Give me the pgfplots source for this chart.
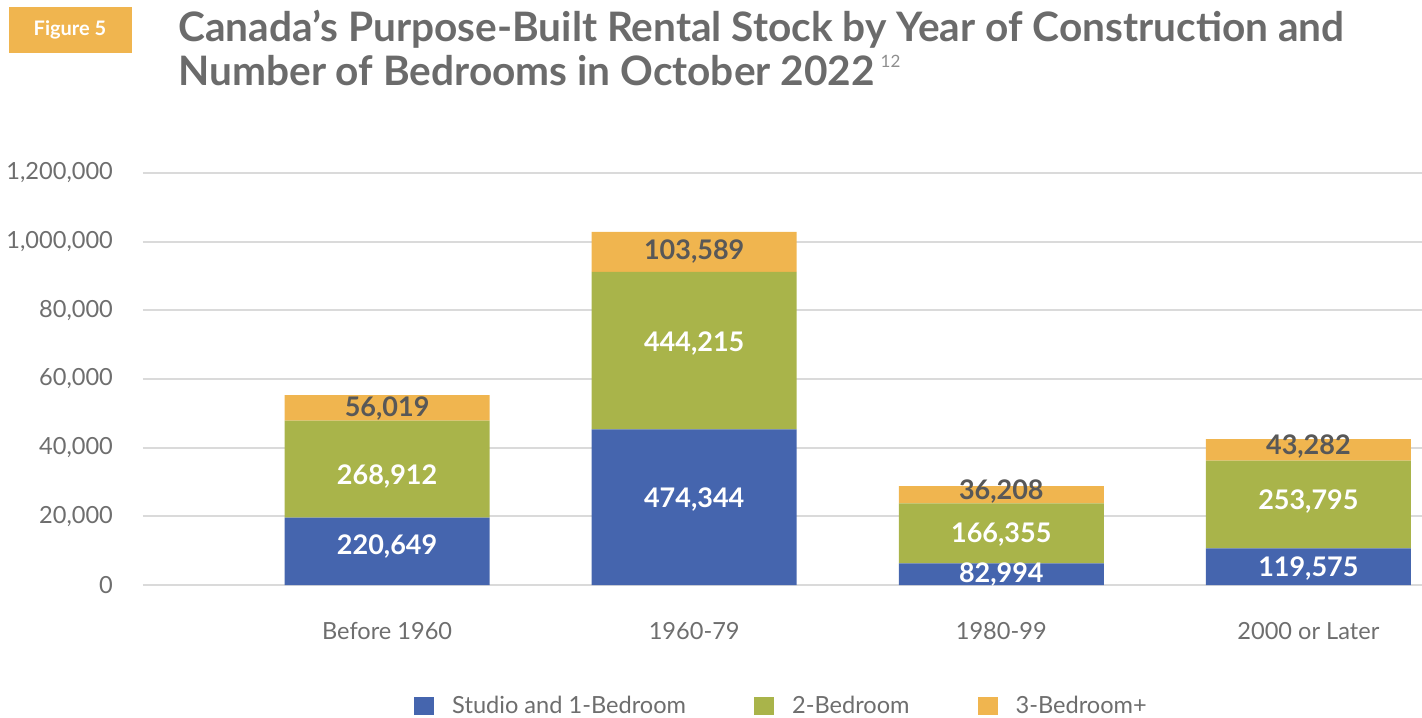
\documentclass[border=0pt]{standalone}
\usepackage{pgfplots}
\pgfplotsset{compat=1.18}
\usepackage{fontspec}
\setmainfont{Lato}
\definecolor{cblue}{HTML}{4565AE}
\definecolor{cgreen}{HTML}{A9B44A}
\definecolor{corange}{HTML}{F0B54F}
\definecolor{ctitle}{HTML}{6B6B6B}
\definecolor{ctick}{HTML}{6E6E6E}
\definecolor{cgrid}{HTML}{DADADA}
\definecolor{cdark}{HTML}{585858}
\definecolor{csup}{HTML}{8E8E8E}
\begin{document}
\begin{tikzpicture}
\useasboundingbox (-71.5pt,-66pt) rectangle (639.5pt,292.5pt);
\pgfplotsset{common/.style={width=639.5pt,height=206pt,scale only axis,
  xmin=-0.795,xmax=3.37,ymin=0,ymax=120000,at={(0pt,0pt)},anchor=south west}}
% title block
\fill[corange] (-67pt,266pt) rectangle (-5.5pt,289pt);
\node[text=white,font=\fontsize{10}{10}\selectfont\bfseries] at (-36.5pt,277.5pt) {Figure 5};
\node[anchor=base west,inner sep=0pt,text=ctitle,font=\fontsize{20.3}{20.3}\selectfont\bfseries] at (17.5pt,271.5pt) {Canada’s Purpose-Built Rental Stock by Year of Construction and};
\node[anchor=base west,inner sep=0pt,text=ctitle,font=\fontsize{20.3}{20.3}\selectfont\bfseries] at (17.5pt,249.5pt) {Number of Bedrooms in October 2022\hspace{3pt}{\fontsize{8.5}{8.5}\selectfont\mdseries\color{csup}\raisebox{9pt}{12}}};
\begin{axis}[common,
  ybar stacked, bar width=102.5pt,
  axis line style={draw=none},
  major tick length=0pt,
  scaled y ticks=false,
  ymajorgrids, grid style={cgrid,line width=1pt},
  xtick={0,1,2,3},
  xticklabels={Before 1960,1960-79,1980-99,2000 or Later},
  ytick={0,20000,40000,60000,80000,100000,120000},
  yticklabels={0,{20,000},{40,000},{60,000},{80,000},{1,000,000},{1,200,000}},
  ticklabel style={font=\fontsize{11.8}{11.8}\selectfont,text=ctick},
  xticklabel style={yshift=-15pt},
  yticklabel style={xshift=-11.5pt},
  legend style={at={(0.5,-0.294)},anchor=center,legend columns=3,draw=none,
    font=\fontsize{11.8}{11.8}\selectfont,text=ctick,
    /tikz/every even column/.append style={column sep=32pt}},
  legend image code/.code={\fill[#1,draw=none] (0pt,-4.5pt) rectangle (10pt,4.5pt); \path (17pt,0pt);},
]
\addplot[fill=cblue,draw=none] coordinates {(0,19600) (1,45330) (2,6320) (3,10690)};
\addplot[fill=cgreen,draw=none] coordinates {(0,28240) (1,45880) (2,17470) (3,25500)};
\addplot[fill=corange,draw=none] coordinates {(0,7480) (1,11650) (2,5040) (3,6320)};
\legend{Studio and 1-Bedroom,2-Bedroom,3-Bedroom+}
\end{axis}
\begin{axis}[common,hide axis,clip=false]
\addplot[draw=none,mark=none,nodes near coords,point meta=explicit symbolic,
  every node near coord/.append style={anchor=center,text=white,font=\fontsize{13.5}{13.5}\selectfont\bfseries}]
  table[meta=lab] {
x y lab
0 11150 220,649
1 24750 474,344
2 2910 82,994
3 4860 119,575
};
\addplot[draw=none,mark=none,nodes near coords,point meta=explicit symbolic,
  every node near coord/.append style={anchor=center,text=white,font=\fontsize{13.5}{13.5}\selectfont\bfseries}]
  table[meta=lab] {
x y lab
0 31530 268,912
1 70360 444,215
2 14560 166,355
3 24250 253,795
};
\addplot[draw=none,mark=none,nodes near coords,point meta=explicit symbolic,
  every node near coord/.append style={anchor=center,text=cdark,font=\fontsize{13.5}{13.5}\selectfont\bfseries}]
  table[meta=lab] {
x y lab
0 51430 56,019
1 97030 103,589
2 27160 36,208
3 40260 43,282
};
\end{axis}
\end{tikzpicture}
\end{document}
